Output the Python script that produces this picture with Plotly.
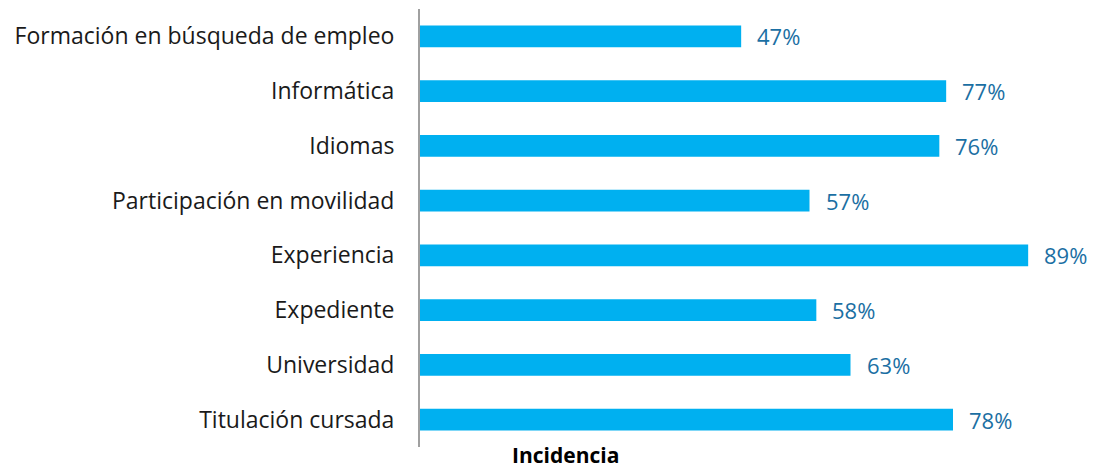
import plotly.graph_objects as go

categories = ["Formación en búsqueda de empleo", "Informática", "Idiomas",
              "Participación en movilidad", "Experiencia", "Expediente",
              "Universidad", "Titulación cursada"]
values = [47, 77, 76, 57, 89, 58, 63, 78]
value_labels = ["47%", "77%", "76%", "57%", "89%", "58%", "63%", "78%"]
axis_title = "Incidencia"

FONT = "Open Sans"
x_max = 96
left = 420
plot_w = 656
right = 1096 - left - plot_w
top = 9
bottom = 24
plot_h = 471 - top - bottom

fig = go.Figure(go.Bar(
    y=categories, x=values, orientation="h",
    marker=dict(color="#00B0F0", line=dict(width=0)),
    width=0.4, hoverinfo="skip",
))

for c, v, t in zip(categories, values, value_labels):
    fig.add_annotation(x=v, y=c, xref="x", yref="y", text=t, showarrow=False,
                       xanchor="left", yanchor="middle", xshift=14,
                       font=dict(family=FONT, size=22, color="#1B6FA3"))

fig.add_annotation(x=(565 - left) / plot_w, y=-(471 - (471 - bottom)) / plot_h,
                   xref="paper", yref="paper",
                   text="<b>" + axis_title + "</b>", showarrow=False,
                   xanchor="center", yanchor="bottom",
                   font=dict(family=FONT, size=21, color="#000000"))

fig.update_layout(
    width=1096, height=471,
    margin=dict(l=left, r=right, t=top, b=bottom, autoexpand=False),
    paper_bgcolor="white", plot_bgcolor="white",
    showlegend=False,
    xaxis=dict(range=[0, x_max], showgrid=False, zeroline=False,
               showticklabels=False, showline=False, fixedrange=True),
    yaxis=dict(autorange="reversed", showgrid=False, zeroline=False,
               showline=True, linecolor="#A0A0A0", linewidth=2,
               ticks="", ticklabelstandoff=19, automargin=False,
               tickfont=dict(family=FONT, size=23, color="#1a1a1a")),
)

fig.write_html("out.html", config={"displayModeBar": False},
               post_script="document.body.style.margin='0';")
